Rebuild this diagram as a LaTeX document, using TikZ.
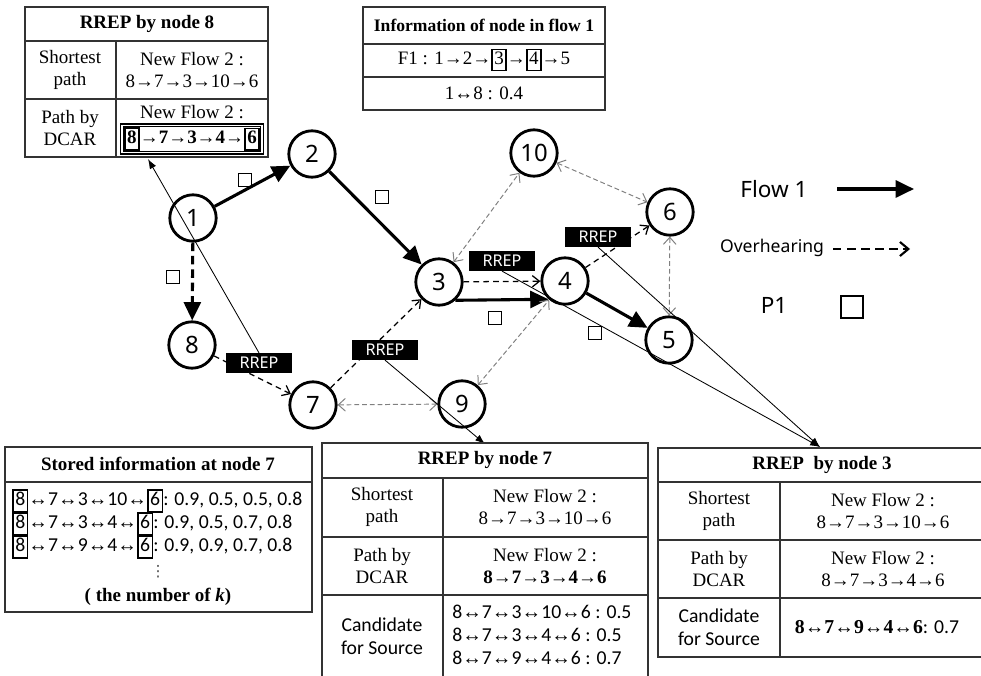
\documentclass[tikz,border=0pt]{standalone}
\usepackage{fontspec}
\setmainfont{Liberation Serif}
\newfontfamily\gothic{Noto Sans}
\newfontfamily\calib{Carlito}
\newfontfamily\arrfont{Liberation Serif}
\newfontfamily\symfont{DejaVu Sans}
\usetikzlibrary{arrows.meta}

\newcommand{\bx}[1]{{\setlength{\fboxsep}{1pt}\setlength{\fboxrule}{1.2pt}\fbox{\rule[-3pt]{0pt}{11pt}#1}}}
\newcommand{\lr}{{\arrfont ↔}}

\tikzset{
  vtx/.style={circle,draw,line width=2pt,minimum size=33pt,inner sep=0pt,fill=white,
    font=\gothic\fontsize{17}{17}\selectfont},
  flow/.style={line width=2.2pt,-{Triangle[length=13pt,width=12pt]}},
  ovh/.style={line width=0.9pt,dash pattern=on 4pt off 3pt,-{Straight Barb[length=5pt,width=8pt]}},
  gry/.style={gray,line width=0.7pt,dash pattern=on 3.5pt off 2pt,
    {Straight Barb[length=5pt,width=9pt]}-{Straight Barb[length=5pt,width=9pt]}},
  call/.style={line width=0.6pt,-{Latex[length=7pt,width=5pt]}},
  rrep/.style={fill=black,text=white,minimum width=47pt,minimum height=14pt,inner sep=0pt,
    font=\gothic\fontsize{11.5}{11.5}\selectfont},
  pkt/.style={draw,line width=0.9pt,minimum size=9.5pt,inner sep=0pt},
  tbl/.style={line width=0.9pt,black!80},
  cell/.style={align=center,inner sep=0pt,font=\fontsize{13.5}{15.8}\selectfont},
  sans/.style={align=left,inner sep=0pt,font=\calib\fontsize{14}{16.5}\selectfont},
  ttl/.style={inner sep=0pt,font=\bfseries\fontsize{13.5}{15}\selectfont},
  lgd/.style={inner sep=0pt,font=\gothic\fontsize{16}{16}\selectfont},
}

\begin{document}
\begin{tikzpicture}[x=0.025cm,y=-0.025cm]
        \useasboundingbox (0,0) rectangle (981,676);

        % nodes of the network
        \node[vtx] (n1) at (193,218) {1};
        \node[vtx] (n2) at (312,154) {2};
        \node[vtx] (n3) at (439,282) {\bfseries 3};
        \node[vtx] (n4) at (565,281) {4};
        \node[vtx] (n5) at (669,340) {5};
        \node[vtx] (n6) at (670,212) {6};
        \node[vtx] (n7) at (313,405) {7};
        \node[vtx] (n8) at (192,345) {8};
        \node[vtx] (n9) at (462,404) {9};
        \node[vtx] (n10) at (534,153) {10};

        % flow 1
        \draw[flow] (n1) -- (n2);
        \draw[flow] (n2) -- (n3);
        \draw[flow] (n3.-48) -- (n4.-132);
        \draw[flow] (n4) -- (n5);
        \draw[flow,dash pattern=on 6pt off 3.5pt] (n1) -- (n8);

        % overhearing
        \draw[ovh] (n8) -- (n7);
        \draw[ovh] (n7) -- (n3);
        \draw[ovh] (n3) -- (n4);
        \draw[ovh] (n4) -- (n6);
        \draw[gry] (n7) -- (n9);
        \draw[gry] (n9) -- (n4);
        \draw[gry] (n3) -- (n10);
        \draw[gry] (n10) -- (n6);
        \draw[gry] (n6) -- (n5);

        % packets P1
        \node[pkt] (p1) at (245,180) {};
        \node[pkt] (p2) at (382,197) {};
        \node[pkt] (p3) at (173,277) {};
        \node[pkt] (p4) at (495,318) {};
        \node[pkt] (p5) at (595,333) {};

        \node[rrep] (r87) at (259,363) {RREP};
        \node[rrep] (r73) at (385,350) {RREP};
        \node[rrep] (r34) at (502,261) {RREP};
        \node[rrep] (r46) at (598,237) {RREP};

        \coordinate (t8) at (148,159);
        \coordinate (t7) at (485,444);
        \coordinate (t3) at (820,447);
        \draw[call] (r87.north) -- (t8);
        \draw[call] (r73.south) -- (t7);
        \draw[call] (r34.south) -- (t3);
        \draw[call] (r46.south) -- (t3);

        % RREP by node 8
        \draw[tbl] (25,7) rectangle (268,157) (25,41) -- (268,41) (25,99) -- (268,99) (116,41) -- (116,157);
        \node[ttl] (h8) at (147,24) {RREP by node 8};
        \node[cell] (a8) at (70,70) {Shortest\\path};
        \node[cell] (b8) at (192,70) {New Flow 2 :\\8→7→3→10→6};
        \node[cell] (c8) at (70,128) {Path by\\DCAR};
        \node[cell] (d8) at (192,112) {New Flow 2 :};
        \node[cell,draw,double,line width=0.8pt,double distance=1.2pt,inner sep=1.5pt] (e8) at (192,139)
                {\bfseries\bx{8}→7→3→4→\bx{6}};

        % Information of node in flow 1
        \draw[tbl] (363,7) rectangle (605,110) (363,44) -- (605,44) (363,77) -- (605,77);
        \node[ttl,font=\bfseries\fontsize{12.5}{15}\selectfont] (hi) at (484,25) {Information of node in flow 1};
        \node[cell] (fi) at (484,60) {F1 : 1→2→\bx{3}→\bx{4}→5};
        \node[cell] (gi) at (484,93) {1↔8 : 0.4};

        % Stored information at node 7
        \draw[tbl] (5,447) rectangle (312,612) (5,482) -- (312,482);
        \node[ttl] (hs) at (158,464) {Stored information at node 7};
        \node[sans,anchor=west] (s1) at (12,501) {\bx{8}\lr7\lr3\lr10\lr\bx{6}: 0.9, 0.5, 0.5, 0.8};
        \node[sans,anchor=west] (s2) at (12,524) {\bx{8}\lr7\lr3\lr4\lr\bx{6}: 0.9, 0.5, 0.7, 0.8};
        \node[sans,anchor=west] (s3) at (12,547) {\bx{8}\lr7\lr9\lr4\lr\bx{6}: 0.9, 0.9, 0.7, 0.8};
        \node[inner sep=0pt,font=\symfont\fontsize{11}{11}\selectfont,black!70] (s4) at (158,572) {⋮};
        \node[ttl] (s5) at (158,597) {( the number of \textit{k})};

        % RREP by node 7
        \draw[tbl] (322,443) rectangle (648,680) (322,478) -- (648,478) (322,537) -- (648,537)
                (322,595) -- (648,595) (443,478) -- (443,680);
        \node[ttl] (h7) at (485,460) {RREP by node 7};
        \node[cell] (a7) at (382,507) {Shortest\\path};
        \node[cell] (b7) at (545,507) {New Flow 2 :\\8→7→3→10→6};
        \node[cell] (c7) at (382,566) {Path by\\DCAR};
        \node[cell] (d7) at (545,566) {New Flow 2 :\\\textbf{8→7→3→4→6}};
        \node[sans,align=center] (e7) at (382,636) {Candidate\\for Source};
        \node[sans,anchor=west] (f7) at (452,635)
                {8\lr7\lr3\lr10\lr6 : 0.5\\8\lr7\lr3\lr4\lr6 : 0.5\\8\lr7\lr9\lr4\lr6 : 0.7};

        % RREP by node 3
        \draw[tbl] (658,448) rectangle (986,657) (658,482) -- (986,482) (658,540) -- (986,540)
                (658,598) -- (986,598) (780,482) -- (780,657);
        \node[ttl] (h3) at (822,465) {RREP\ \ by node 3};
        \node[cell] (a3) at (719,511) {Shortest\\path};
        \node[cell] (b3) at (883,511) {New Flow 2 :\\8→7→3→10→6};
        \node[cell] (c3) at (719,569) {Path by\\DCAR};
        \node[cell] (d3) at (883,569) {New Flow 2 :\\8→7→3→4→6};
        \node[sans,align=center] (e3) at (719,627) {Candidate\\for Source};
        \node[sans] (f3) at (877,627) {\textbf{\arrfont 8↔7↔9↔4↔6}: 0.7};

        % legend
        \node[lgd] (lf) at (774,189) {Flow 1};
        \coordinate (lf1) at (837,189);
        \coordinate (lf2) at (914,189);
        \draw[flow] (lf1) -- (lf2);
        \node[lgd,font=\gothic\fontsize{12.5}{12.5}\selectfont] (lo) at (772,248) {Overhearing};
        \coordinate (lo1) at (833,249);
        \coordinate (lo2) at (910,249);
        \draw[line width=1.5pt,dash pattern=on 6pt off 4pt,-{Straight Barb[length=6pt,width=10pt]}] (lo1) -- (lo2);
        \node[lgd] (lp) at (774,305) {P1};
        \node[pkt,minimum size=16pt,line width=1.3pt] (lpk) at (852,307) {};
\end{tikzpicture}
\end{document}
